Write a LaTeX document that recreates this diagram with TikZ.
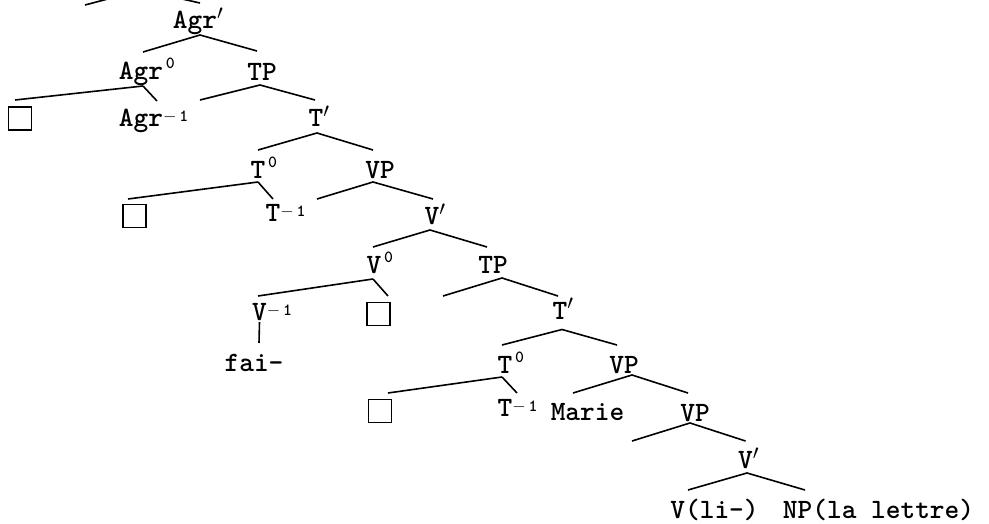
\documentclass[tikz,border=0pt]{standalone}
\usetikzlibrary{calc}
\newcommand\supz[1]{\rlap{\raisebox{11pt}{\fontsize{17}{17}\selectfont\,#1}}}
\newcommand\supm{\rlap{\raisebox{5pt}{\fontsize{17}{17}\selectfont$-$\,1}}}
\newcommand\prm{\rlap{$'$}}
\newcommand\br[6]{\draw[branch] ($(#1)+(#2,#3)$) -- ($(#4)+(#5,#6)$);}
\tikzset{
  lab/.style={font=\fontsize{28}{30}\selectfont\ttfamily\bfseries, inner sep=0pt,
              text height=17pt, text depth=0pt, anchor=center},
  boxn/.style={draw, line width=1.2pt, minimum size=23pt, inner sep=0pt},
  branch/.style={line width=1.6pt}
}
\begin{document}
\begin{tikzpicture}[x=1pt,y=-1pt]
\useasboundingbox (0,0) rectangle (989,524);
\clip (0,0) rectangle (989,524);
% nodes
\coordinate (root) at (142,-10);
\coordinate (specA) at (85,5);
\node[lab] (agrbar) at (195,20) {Agr\prm};
\node[lab] (agr0) at (141,71) {Agr\supz{0}};
\node[lab] (tp1) at (262,72) {TP};
\node[boxn] (box1) at (20,118.5) {};
\node[lab] (agrm) at (141,118.5) {Agr\supm};
\coordinate (s1) at (200,100);
\node[lab] (tbar1) at (316,118) {T\prm};
\node[lab] (t0a) at (258,170) {T\supz{0}};
\node[lab] (vp1) at (380,170) {VP};
\node[boxn] (box2) at (134.5,216) {};
\node[lab] (tm1) at (273,213.5) {T\supm};
\coordinate (s2) at (317,199);
\node[lab] (vbar1) at (432,216) {V\prm};
\node[lab] (v0) at (374,265) {V\supz{0}};
\node[lab] (tp2) at (493,265) {TP};
\node[lab] (vm1) at (259.5,311.5) {V\supm};
\node[boxn] (box3) at (378.5,314) {};
\node[lab] (fai) at (254,362.5) {fai-};
\coordinate (s3) at (443,296);
\node[lab] (tbar2) at (560,310.5) {T\prm};
\node[lab] (t0b) at (505,365) {T\supz{0}};
\node[lab] (vp2) at (624,365) {VP};
\node[boxn] (box4) at (380,411) {};
\node[lab] (tm2) at (505,407.5) {T\supm};
\node[lab] (marie) at (587.5,411.5) {Marie};
\node[lab] (vp3) at (695,413) {VP};
\coordinate (s4) at (632,441);
\node[lab] (vbar2) at (745.5,460) {V\prm};
\node[lab] (vli) at (714.5,510) {V(li-)};
\node[lab] (np) at (878.5,510) {NP(la lettre)};
% branches
\br{root}{0}{0}{specA}{0}{0}
\br{root}{0}{0}{agrbar}{5}{-17}
\br{agrbar}{5}{15}{agr0}{2}{-19}
\br{agrbar}{5}{15}{tp1}{-5}{-21}
\br{agr0}{2}{15}{box1}{-5}{-18.5}
\br{agr0}{2}{15}{agrm}{16}{-17.5}
\br{tp1}{-2}{13}{s1}{0}{0}
\br{tp1}{-2}{13}{tbar1}{-1}{-18}
\br{tbar1}{1}{15}{t0a}{0}{-20}
\br{tbar1}{1}{15}{vp1}{-7}{-20}
\br{t0a}{0}{12}{box2}{-6.5}{-17}
\br{t0a}{0}{12}{tm1}{0}{-14.5}
\br{vp1}{-7}{12}{s2}{0}{0}
\br{vp1}{-7}{12}{vbar1}{1}{-17}
\br{vbar1}{-2}{14}{v0}{-1}{-18}
\br{vbar1}{-2}{14}{tp2}{-6}{-18}
\br{v0}{-1}{14}{vm1}{-1.5}{-15.5}
\br{v0}{-1}{14}{box3}{9.5}{-18}
\br{vm1}{0}{10.5}{fai}{5}{-19.5}
\br{tp2}{9}{13}{s3}{0}{0}
\br{tp2}{9}{13}{tbar2}{-2}{-14.5}
\br{tbar2}{2}{19}{t0b}{-3}{-20}
\br{tbar2}{2}{19}{vp2}{-7}{-20}
\br{t0b}{-3}{12}{box4}{8}{-18}
\br{t0b}{-3}{12}{tm2}{12}{-14.5}
\br{vp2}{8}{10}{marie}{-14.5}{-18.5}
\br{vp2}{8}{10}{vp3}{-7}{-20}
\br{vp3}{-5}{10}{s4}{0}{0}
\br{vp3}{-5}{10}{vbar2}{0}{-19}
\br{vbar2}{1.5}{13}{vli}{-26.5}{-20}
\br{vbar2}{1.5}{13}{np}{-73.5}{-20}
\end{tikzpicture}
\end{document}
